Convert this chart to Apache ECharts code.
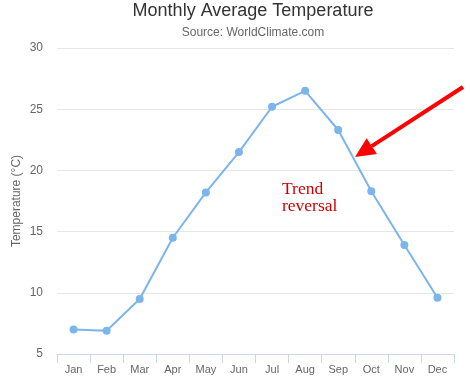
<!DOCTYPE html>
<html>
<head>
<meta charset="utf-8">
<script src="https://cdn.jsdelivr.net/npm/echarts@6/dist/echarts.min.js"></script>
<style>html,body{margin:0;padding:0;background:#fff}#c{width:470px;height:389px}</style>
</head>
<body>
<div id="c"></div>
<script>
const categories = ['Jan','Feb','Mar','Apr','May','Jun','Jul','Aug','Sep','Oct','Nov','Dec'];
const temperatures = [7.0, 6.9, 9.5, 14.5, 18.2, 21.5, 25.2, 26.5, 23.3, 18.3, 13.9, 9.6];
const titleText = 'Monthly Average Temperature';
const subtitleText = 'Source: WorldClimate.com';
const yAxisName = 'Temperature (°C)';
const annotationText = 'Trend\nreversal';

const FONT = 'Liberation Sans, Arial, Helvetica, sans-serif';
const chart = echarts.init(document.getElementById('c'), null, {renderer: 'canvas'});

// Arrow geometry (annotation)
const tail = [463, 87], tip = [355, 157];
const dx = tip[0] - tail[0], dy = tip[1] - tail[1];
const len = Math.sqrt(dx*dx + dy*dy);
const ux = dx/len, uy = dy/len;
const headLen = 20, headHalf = 9.5;
const base = [tip[0] - ux*headLen, tip[1] - uy*headLen];
const nx = -uy, ny = ux;

chart.setOption({
  animation: false,
  backgroundColor: '#fff',
  title: [
    {text: titleText, left: 248, top: -3, textAlign: 'center',
     textStyle: {fontFamily: FONT, fontSize: 18, fontWeight: 'normal', color: '#333'}},
    {text: subtitleText, left: 248, top: 22, textAlign: 'center',
     textStyle: {fontFamily: FONT, fontSize: 12, fontWeight: 'normal', color: '#666'}}
  ],
  grid: {left: 57, right: 16, top: 48, bottom: 35, outerBoundsMode: 'none', containLabel: false},
  xAxis: {
    type: 'category',
    data: categories,
    boundaryGap: true,
    axisLine: {lineStyle: {color: '#ccd6eb', width: 1}},
    axisTick: {show: true, length: 9, lineStyle: {color: '#ccd6eb'}},
    axisLabel: {color: '#666', fontFamily: FONT, fontSize: 11, margin: 10}
  },
  yAxis: {
    type: 'value',
    min: 5, max: 30, interval: 5,
    name: yAxisName,
    nameLocation: 'middle',
    nameGap: 34,
    nameMoveOverlap: false,
    nameTextStyle: {color: '#666', fontFamily: FONT, fontSize: 12},
    axisLine: {show: false},
    axisTick: {show: false},
    axisLabel: {color: '#666', fontFamily: FONT, fontSize: 12, margin: 14},
    splitLine: {lineStyle: {color: '#e6e6e6', width: 1}}
  },
  series: [{
    type: 'line',
    data: temperatures,
    symbol: 'circle',
    symbolSize: 8,
    lineStyle: {color: '#7cb5ec', width: 2},
    itemStyle: {color: '#7cb5ec'},
    z: 3
  }],
  graphic: [
    {type: 'line', z: 10,
     shape: {x1: tail[0], y1: tail[1], x2: base[0], y2: base[1]},
     style: {stroke: '#ff0000', lineWidth: 4}},
    {type: 'polygon', z: 10,
     shape: {points: [tip, [base[0] + nx*headHalf, base[1] + ny*headHalf], [base[0] - nx*headHalf, base[1] - ny*headHalf]]},
     style: {fill: '#ff0000'}},
    {type: 'text', z: 10, left: 282, top: 180,
     style: {text: annotationText, fill: '#cc0000', font: '17.5px "Liberation Serif", "DejaVu Serif", serif', lineHeight: 17}}
  ]
});
</script>
</body>
</html>
